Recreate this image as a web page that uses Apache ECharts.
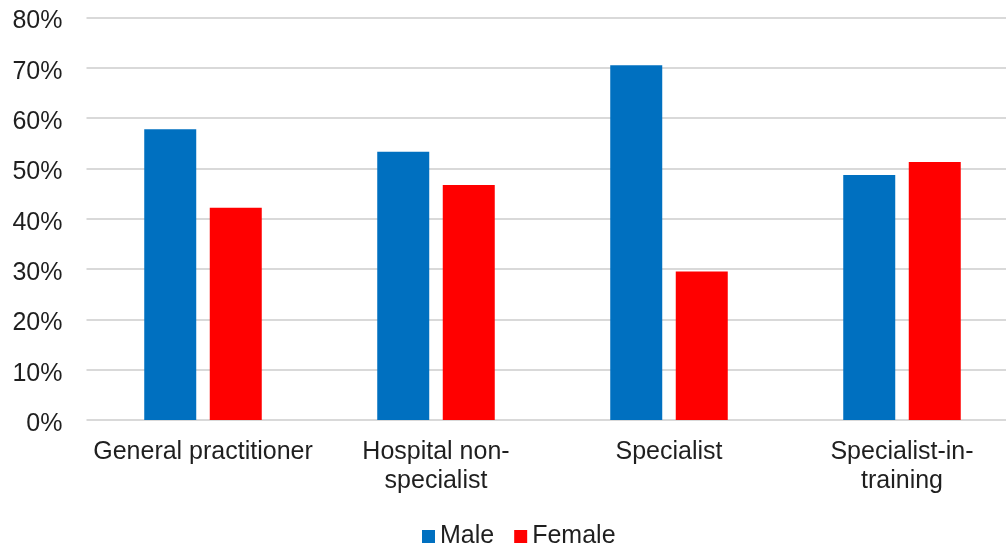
<!DOCTYPE html>
<html lang="en">
  <head>
    <meta charset="UTF-8" />
    <title>Male / Female by role</title>
    <script src="https://cdn.jsdelivr.net/npm/echarts@6/dist/echarts.min.js"></script>
    <style>
      html, body { margin: 0; padding: 0; background: #fff; }
      #main { width: 1006px; height: 548px; }
    </style>
  </head>
  <body>
    <div id="main"></div>
    <script>
      // data (percent)
      const categories = [
        "General practitioner",
        "Hospital non-\nspecialist",
        "Specialist",
        "Specialist-in-\ntraining",
      ];
      const seriesNames = ["Male", "Female"];
      const male = [57.8, 53.3, 70.5, 48.7];
      const female = [42.2, 46.7, 29.5, 51.3];
      const yTicks = { min: 0, max: 80, interval: 10 };

      const textColor = "#1f1f1f";
      const font = "'Liberation Sans', Arial, sans-serif";

      const chart = echarts.init(document.getElementById("main"));

      const option = {
        animation: false,
        textStyle: { fontFamily: font },
        // plot runs a little past the right edge, like the source image
        grid: {
          left: 86.5,
          width: 932,
          top: 17.5,
          bottom: 128,
          outerBoundsMode: "none",
        },
        legend: {
          data: seriesNames,
          left: 417,
          top: 519,
          itemWidth: 13,
          itemHeight: 13,
          itemGap: 20,
          icon: "rect",
          textStyle: { fontSize: 25, color: textColor, fontFamily: font },
        },
        xAxis: {
          type: "category",
          data: categories,
          axisLine: { show: false },
          axisTick: { show: false },
          axisLabel: {
            fontSize: 25,
            color: textColor,
            margin: 18,
            lineHeight: 29,
            interval: 0,
          },
        },
        yAxis: {
          type: "value",
          min: yTicks.min,
          max: yTicks.max,
          interval: yTicks.interval,
          axisLine: { show: false },
          axisTick: { show: false },
          splitLine: { lineStyle: { color: "#d9d9d9", width: 2 } },
          axisLabel: {
            fontSize: 25,
            color: textColor,
            margin: 24,
            // labels sit a few px below their gridline in the source
            verticalAlign: "top",
            lineHeight: 8,
            formatter: "{value}%",
          },
        },
        series: [
          {
            name: seriesNames[0],
            type: "bar",
            data: male,
            barWidth: 52,
            barGap: "26%",
            itemStyle: { color: "#0070C0" },
          },
          {
            name: seriesNames[1],
            type: "bar",
            data: female,
            barWidth: 52,
            barGap: "26%",
            itemStyle: { color: "#FF0000" },
          },
        ],
      };

      chart.setOption(option);
    </script>
  </body>
</html>
